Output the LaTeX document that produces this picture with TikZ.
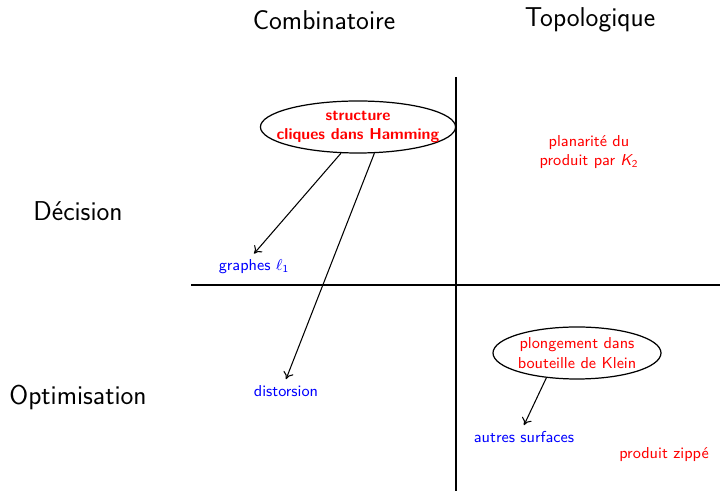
\documentclass[tikz,border=0pt]{standalone}
\usepackage{xcolor}
\usepackage{tikz}
\usetikzlibrary{shapes.geometric, arrows, arrows.meta, positioning, calc}

\begin{document}
\begin{tikzpicture}[
    font=\sffamily,
    head/.style={font=\sffamily\fontsize{15.5}{18}\selectfont},
    item/.style={font=\sffamily\small, align=center},
    bubble/.style={draw, line width=0.7pt, ellipse, inner xsep=-7pt, inner ysep=1pt, minimum height=1.04cm, align=center, font=\sffamily\small},
    arrow/.style={-{To[length=4pt, width=6pt]}, semithick}
]
    \useasboundingbox (0,0) rectangle (14.4,9.82);

    % Axes
    \coordinate (vtop) at (9.12, 8.28);
    \coordinate (vbot) at (9.12, 0);
    \coordinate (hleft) at (3.82, 4.12);
    \coordinate (hright) at (14.4, 4.12);
    \draw[line width=0.7pt] (vtop) -- (vbot);
    \draw[line width=0.7pt] (hleft) -- (hright);

    % Headers
    \node[head] (comb) at (6.48, 9.42) {Combinatoire};
    \node[head] (topo) at (11.8, 9.42) {Topologique};
    \node[head] (dec) at (1.56, 5.60) {Décision};
    \node[head] (opt) at (1.56, 1.88) {Optimisation};

    % Decision
    \node[bubble, minimum width=3.84cm, text=red] (cliques) at (7.16, 7.28) {\textbf{structure}\\\textbf{cliques dans Hamming}};
    \node[item, text=red] (planar) at (11.78, 6.78) {planarité du\\produit par {\itshape K}$_{\mathsf{2}}$};
    \node[item, text=blue] (ell) at (5.08, 4.48) {graphes $\ell_{\mathsf{1}}$};

    % Optimisation
    \node[item, text=blue] (dist) at (5.72, 2.0) {distorsion};
    \node[bubble, minimum width=3.36cm, text=red] (klein) at (11.54, 2.76) {plongement dans\\bouteille de Klein};
    \node[item, text=blue] (surf) at (10.48, 1.08) {autres surfaces};
    \node[item, text=red] (zip) at (13.28, 0.72) {produit zippé};

    \draw[arrow] (cliques.-123) -- (ell.north);
    \draw[arrow] (cliques.-58) -- (dist.north);
    \draw[arrow] (klein.-141) -- (surf.north);
\end{tikzpicture}
\end{document}
